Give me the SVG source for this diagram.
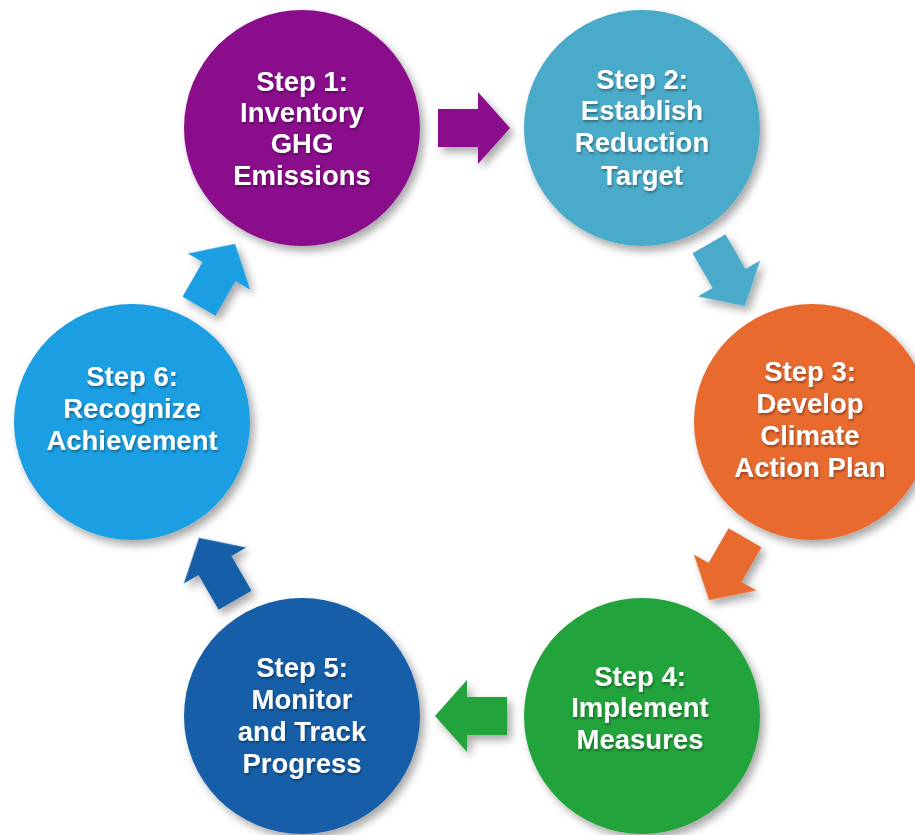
<svg xmlns="http://www.w3.org/2000/svg" width="915" height="835" viewBox="0 0 915 835">
  <defs>
    <filter id="sh" x="-20%" y="-20%" width="150%" height="150%">
      <feGaussianBlur in="SourceAlpha" stdDeviation="4"/>
      <feOffset dx="4" dy="5" result="b"/>
      <feComponentTransfer><feFuncA type="linear" slope="0.35"/></feComponentTransfer>
      <feMerge><feMergeNode/><feMergeNode in="SourceGraphic"/></feMerge>
    </filter>
    <filter id="tsh" x="-10%" y="-20%" width="130%" height="150%">
      <feGaussianBlur in="SourceAlpha" stdDeviation="1"/>
      <feOffset dx="1" dy="1.5" result="b"/>
      <feComponentTransfer><feFuncA type="linear" slope="0.35"/></feComponentTransfer>
      <feMerge><feMergeNode/><feMergeNode in="SourceGraphic"/></feMerge>
    </filter>
    <path id="arr" d="M-36,-19 L4,-19 L4,-36 L36,0 L4,36 L4,19 L-36,19 Z"/>
  </defs>
  <style>
    .lbl { font-family: "Liberation Sans", Arial, Helvetica, sans-serif; font-weight: bold; font-size: 27.5px; fill: #ffffff; text-anchor: middle; filter: url(#tsh); }
    .c { filter: url(#sh); }
  </style>
  <rect width="915" height="835" fill="#ffffff"/>

  <g id="connectors" filter="url(#sh)">
    <use href="#arr" fill="#8A0D8C" transform="translate(474,128)"/>
    <use href="#arr" fill="#4AABC9" transform="translate(727,275) rotate(60)"/>
    <use href="#arr" fill="#E86A2F" transform="translate(727,569) rotate(120)"/>
    <use href="#arr" fill="#20A33A" transform="translate(471,716) rotate(180)"/>
    <use href="#arr" fill="#175FA8" transform="translate(217,569) rotate(240)"/>
    <use href="#arr" fill="#1A9EE2" transform="translate(217,275) rotate(300)"/>
  </g>

  <g id="step1">
    <circle class="c" cx="302" cy="128" r="118" fill="#8A0D8C"/>
    <text class="lbl" x="302" y="91">Step 1:</text>
    <text class="lbl" x="302" y="122">Inventory</text>
    <text class="lbl" x="302" y="153">GHG</text>
    <text class="lbl" x="302" y="185">Emissions</text>
  </g>
  <g id="step2">
    <circle class="c" cx="642" cy="128" r="118" fill="#4AABC9"/>
    <text class="lbl" x="642" y="89">Step 2:</text>
    <text class="lbl" x="642" y="120">Establish</text>
    <text class="lbl" x="642" y="152">Reduction</text>
    <text class="lbl" x="642" y="185">Target</text>
  </g>
  <g id="step3">
    <circle class="c" cx="812" cy="422" r="118" fill="#E86A2F"/>
    <text class="lbl" x="810" y="381">Step 3:</text>
    <text class="lbl" x="810" y="413">Develop</text>
    <text class="lbl" x="810" y="445">Climate</text>
    <text class="lbl" x="810" y="477">Action Plan</text>
  </g>
  <g id="step4">
    <circle class="c" cx="642" cy="716" r="118" fill="#20A33A"/>
    <text class="lbl" x="640" y="686">Step 4:</text>
    <text class="lbl" x="640" y="717">Implement</text>
    <text class="lbl" x="640" y="749">Measures</text>
  </g>
  <g id="step5">
    <circle class="c" cx="302" cy="716" r="118" fill="#175FA8"/>
    <text class="lbl" x="302" y="677">Step 5:</text>
    <text class="lbl" x="302" y="709">Monitor</text>
    <text class="lbl" x="302" y="741">and Track</text>
    <text class="lbl" x="302" y="773">Progress</text>
  </g>
  <g id="step6">
    <circle class="c" cx="132" cy="422" r="118" fill="#1A9EE2"/>
    <text class="lbl" x="132" y="386">Step 6:</text>
    <text class="lbl" x="132" y="418">Recognize</text>
    <text class="lbl" x="132" y="450">Achievement</text>
  </g>
</svg>
